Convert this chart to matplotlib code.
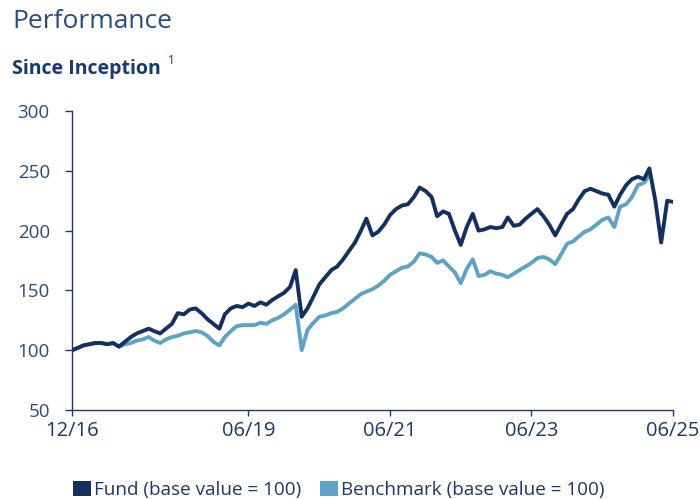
import matplotlib
matplotlib.use("Agg")
import matplotlib.pyplot as plt
from matplotlib.patches import Patch
import pandas as pd

# ---------------- data (monthly, Dec 2016 -> Jun 2025) ----------------
fund_values = [
    100, 102, 104, 105, 106, 106, 105, 106, 103, 107, 111, 114,
    116, 118, 116, 114, 118, 122, 131, 130, 134, 135, 131, 126,
    122, 118, 130, 135, 137, 136, 139, 137, 140, 138, 142, 145,
    148, 153, 167, 128, 135, 145, 155, 161, 167, 170, 176, 183,
    190, 200, 210, 196, 199, 205, 213, 218, 221, 222, 228, 236,
    233, 228, 212, 216, 214, 200, 188, 203, 214, 200, 201, 203,
    202, 203, 211, 204, 205, 210, 214, 218, 212, 205, 196, 205,
    214, 218, 226, 233, 235, 233, 231, 230, 220, 230, 238, 243,
    245, 243, 252, 225, 190, 225, 224,
]
benchmark_values = [
    100, 102, 104, 105, 106, 106, 105, 106, 103, 105, 106, 108,
    109, 111, 108, 106, 109, 111, 112, 114, 115, 116, 115, 112,
    107, 104, 111, 116, 120, 121, 121, 121, 123, 122, 125, 127,
    130, 134, 138, 100, 117, 123, 128, 129, 131, 132, 135, 139,
    143, 147, 149, 151, 154, 158, 163, 166, 169, 170, 174, 181,
    180, 178, 173, 175, 170, 165, 156, 168, 176, 162, 163, 166,
    164, 163, 161, 164, 167, 170, 173, 177, 178, 176, 172, 180,
    189, 191, 195, 199, 201, 205, 209, 211, 203, 220, 222, 228,
    238, 240, 246,
]
start_date = "2016-12-31"
tick_dates = ["2016-12-31", "2019-06-30", "2021-06-30", "2023-06-30", "2025-06-30"]
tick_labels = ["12/16", "06/19", "06/21", "06/23", "06/25"]
y_ticks = [50, 100, 150, 200, 250, 300]
series_names = ["Fund (base value = 100)", "Benchmark (base value = 100)"]

fund_dates = pd.date_range(start_date, periods=len(fund_values), freq="ME")
bench_dates = pd.date_range(start_date, periods=len(benchmark_values), freq="ME")

# ---------------- style ----------------
FUND_C = "#13305f"
BENCH_C = "#5ea3c5"
AXIS_C = "#1f3a68"
LABEL_C = "#2b4a80"
plt.rcParams["font.family"] = ["Open Sans", "DejaVu Sans"]

fig = plt.figure(figsize=(7.0, 4.99), dpi=100)
ax = fig.add_axes([72 / 700, 1 - 410 / 499, (673 - 72) / 700, (410 - 111) / 499])

ax.plot(bench_dates, benchmark_values, color=BENCH_C, lw=2.8, solid_joinstyle="round")
ax.plot(fund_dates, fund_values, color=FUND_C, lw=2.8, solid_joinstyle="round")

ax.set_ylim(50, 300)
ax.set_yticks(y_ticks)
ax.set_xlim(pd.Timestamp(tick_dates[0]), pd.Timestamp(tick_dates[-1]))
ax.set_xticks([pd.Timestamp(d) for d in tick_dates])
ax.set_xticklabels(tick_labels)

for s in ["top", "right"]:
    ax.spines[s].set_visible(False)
for s in ["left", "bottom"]:
    ax.spines[s].set_color(AXIS_C)
    ax.spines[s].set_linewidth(1.0)

ax.tick_params(axis="y", colors=AXIS_C, labelcolor=LABEL_C, labelsize=13.5,
               length=5, width=1.0, pad=11)
ax.tick_params(axis="x", colors=AXIS_C, labelcolor="#1d3766", labelsize=14.5,
               length=4, width=1.0, pad=4)

# ---------------- titles ----------------
fig.text(12 / 700, 1 - 21 / 499, "Performance", color="#2a4b82", fontsize=19,
         va="center", ha="left")
fig.text(12 / 700, 1 - 69 / 499, "Since Inception", color="#183a70", fontsize=14,
         fontweight="bold", va="center", ha="left")
fig.text(168 / 700, 1 - 61 / 499, "1", color="#183a70", fontsize=8.5,
         va="center", ha="left")

# ---------------- legend ----------------
handles = [Patch(facecolor=FUND_C, edgecolor="none"),
           Patch(facecolor=BENCH_C, edgecolor="none")]
leg = fig.legend(handles, series_names, loc="center left", ncol=2,
                 bbox_to_anchor=(73 / 700, 1 - 490 / 499), frameon=False,
                 fontsize=13.6, handlelength=0.95, handleheight=0.8,
                 handletextpad=0.15, columnspacing=1.0, borderpad=0, borderaxespad=0)
for t in leg.get_texts():
    t.set_color("#1d3766")

fig.savefig("out.png", dpi=100)
